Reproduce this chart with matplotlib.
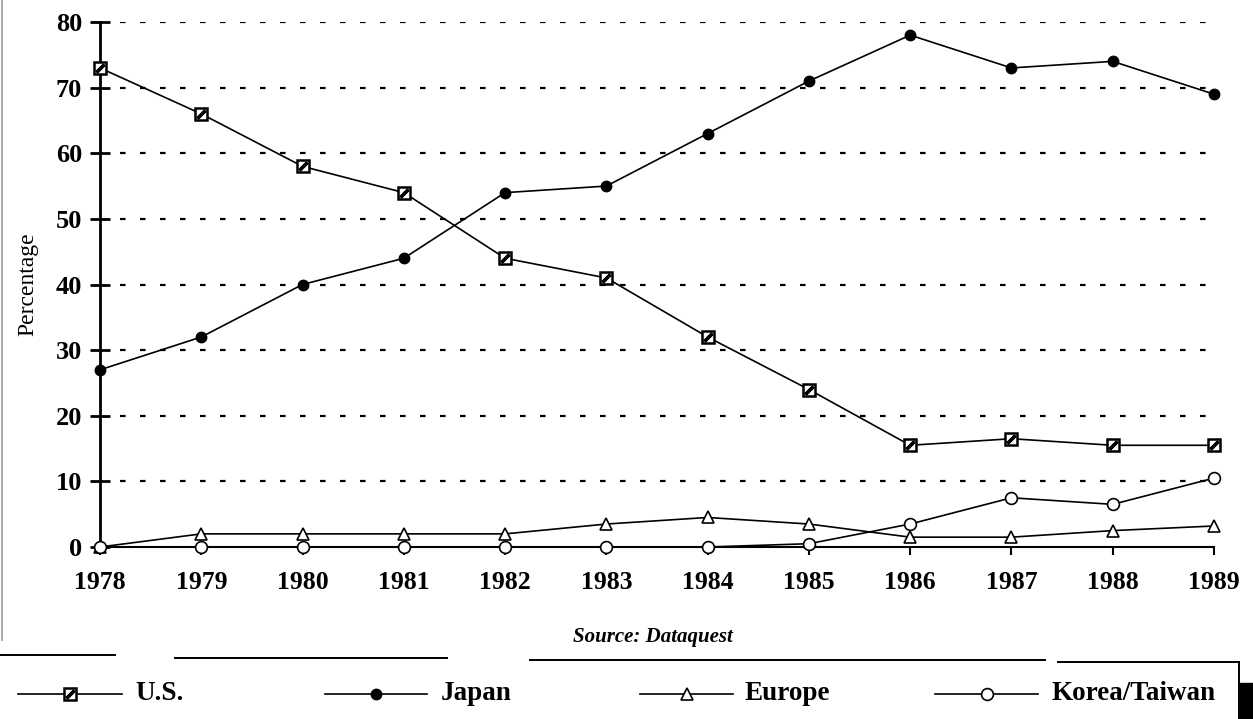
import matplotlib
matplotlib.use("Agg")
import matplotlib.pyplot as plt
from matplotlib.lines import Line2D
from matplotlib.patches import Rectangle

years = [1978, 1979, 1980, 1981, 1982, 1983, 1984, 1985, 1986, 1987, 1988, 1989]
us = [73, 66, 58, 54, 44, 41, 32, 24, 15.5, 16.5, 15.5, 15.5]
japan = [27, 32, 40, 44, 54, 55, 63, 71, 78, 73, 74, 69]
europe = [0, 2, 2, 2, 2, 3.5, 4.5, 3.5, 1.5, 1.5, 2.5, 3.2]
korea = [0, 0, 0, 0, 0, 0, 0, 0.5, 3.5, 7.5, 6.5, 10.5]
yticks = [0, 10, 20, 30, 40, 50, 60, 70, 80]
series_names = ["U.S.", "Japan", "Europe", "Korea/Taiwan"]

SERIF = "Liberation Serif"
W, H = 1253, 719
fig = plt.figure(figsize=(W / 100, H / 100), dpi=100)
fig.patch.set_facecolor("white")

ax = fig.add_axes([100 / W, 1 - 547 / H, (1214 - 100) / W, (547 - 22) / H])
ax.set_xlim(1978, 1989)
ax.set_ylim(0, 80)

# grid lines (dotted/dashed)
for v in yticks[1:]:
    ax.plot([1978.2, 1989], [v, v], color="black", lw=1.6,
            linestyle=(0, (2.5, 6.5)), zorder=1)

lw = 1.2
styles = {
    "U.S.": dict(marker="s", ms=9, mfc="white", mec="black", mew=1.8),
    "Japan": dict(marker="o", ms=7.5, mfc="black", mec="black", mew=1),
    "Europe": dict(marker="^", ms=8, mfc="white", mec="black", mew=1.2),
    "Korea/Taiwan": dict(marker="o", ms=8.5, mfc="white", mec="black", mew=1.2),
}
data = {"U.S.": us, "Japan": japan, "Europe": europe, "Korea/Taiwan": korea}

for name in series_names:
    ax.plot(years, data[name], color="black", lw=lw, clip_on=False, zorder=3,
            **styles[name])
# diagonal inside U.S. squares
ax.plot(years, us, linestyle="none", marker=(2, 2, -45), ms=8, mec="black",
        mew=2.4, clip_on=False, zorder=4)

for s in ["top", "right"]:
    ax.spines[s].set_visible(False)
ax.spines["left"].set_linewidth(2)
ax.spines["bottom"].set_linewidth(1.5)
ax.set_yticks(yticks)
ax.set_xticks(years)
ax.tick_params(axis="y", direction="inout", length=14, width=2, pad=6)
ax.tick_params(axis="x", direction="out", length=6, width=1.5, pad=11)
for lab in ax.get_yticklabels():
    lab.set_fontfamily(SERIF); lab.set_fontweight("bold"); lab.set_fontsize(19)
for lab in ax.get_xticklabels():
    lab.set_fontfamily(SERIF); lab.set_fontweight("bold"); lab.set_fontsize(18.5)
ax.set_ylabel("Percentage", fontfamily=SERIF, fontsize=17, labelpad=10)
ax.yaxis.set_label_coords(-62 / 1114, (547 - 284) / 525)

fig.text(653 / W, 1 - 637 / H, "Source: Dataquest", ha="center", va="center",
         fontfamily=SERIF, fontstyle="italic", fontweight="bold", fontsize=15)

# legend box
for x0, x1, yy in [(0, 115, 655), (175, 447, 658), (530, 1045, 660),
                   (1058, 1239, 662)]:
    fig.add_artist(Line2D([x0 / W, x1 / W], [1 - yy / H] * 2, color="black",
                          lw=1.4, transform=fig.transFigure))
fig.add_artist(Line2D([1239 / W, 1239 / W], [1 - 662 / H, 0], color="black",
                      lw=1.4, transform=fig.transFigure))
fig.add_artist(Rectangle((1240 / W, 0), 13 / W, (719 - 683) / H,
                         color="black", transform=fig.transFigure))
fig.add_artist(Line2D([1.5 / W, 1.5 / W], [1, 1 - 640 / H], color="#999999",
                      lw=1.2, transform=fig.transFigure))

leg = {
    "U.S.": (18, 122, 135),
    "Japan": (325, 427, 441),
    "Europe": (640, 733, 745),
    "Korea/Taiwan": (935, 1038, 1052),
}
ly = 1 - 694 / H
for name in series_names:
    x0, x1, xt = leg[name]
    fig.add_artist(Line2D([x0 / W, x1 / W], [ly, ly], color="black", lw=lw,
                          transform=fig.transFigure))
    fig.add_artist(Line2D([(x0 + x1) / 2 / W], [ly], color="black",
                          transform=fig.transFigure, linestyle="none",
                          **styles[name]))
    if name == "U.S.":
        fig.add_artist(Line2D([(x0 + x1) / 2 / W], [ly], linestyle="none",
                              marker=(2, 2, -45), ms=8, mec="black", mew=2.4,
                              transform=fig.transFigure))
    fig.text(xt / W, ly, name, ha="left", va="center", fontfamily=SERIF,
             fontweight="bold", fontsize=19.5)

fig.savefig("out.png", dpi=100, facecolor="white")
